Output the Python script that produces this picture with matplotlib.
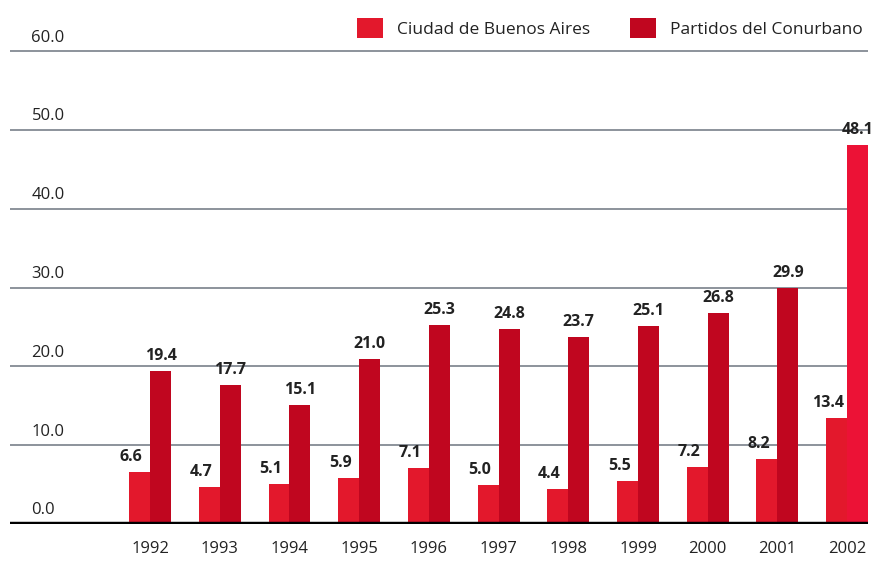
import matplotlib.pyplot as plt
import matplotlib.transforms as mtransforms
import numpy as np

plt.rcParams["font.family"] = ["Open Sans", "DejaVu Sans"]

years = ["1992", "1993", "1994", "1995", "1996", "1997", "1998", "1999", "2000", "2001", "2002"]
ciudad = [6.6, 4.7, 5.1, 5.9, 7.1, 5.0, 4.4, 5.5, 7.2, 8.2, 13.4]
partidos = [19.4, 17.7, 15.1, 21.0, 25.3, 24.8, 23.7, 25.1, 26.8, 29.9, 48.1]
yticks = [0, 10, 20, 30, 40, 50, 60]

C_CIUDAD = "#e3182c"
C_PARTIDOS = "#c0061f"
TXT = "#222222"

fig = plt.figure(figsize=(8.74, 5.62), dpi=100)
ax = fig.add_axes([10 / 874, 38 / 562, 858 / 874, 476 / 562])

x = np.arange(len(years))
w = 0.30
p_colors = [C_PARTIDOS] * (len(years) - 1) + ["#ec1236"]
ax.bar(x - w / 2, ciudad, w, color=C_CIUDAD, label="Ciudad de Buenos Aires", zorder=2)
ax.bar(x + w / 2, partidos, w, color=p_colors, label="Partidos del Conurbano", zorder=2)

ax.set_xlim(-2.01, 10.30)
ax.set_ylim(0, 60.4)

# grid lines
for v in yticks[1:]:
    ax.axhline(v, color="#8c939b", linewidth=1.4, zorder=1)
ax.axhline(0, color="black", linewidth=3.2, zorder=3)

# y labels above gridlines
trans = mtransforms.blended_transform_factory(ax.transAxes, ax.transData)
for v in yticks:
    ax.annotate(f"{v:.1f}", xy=(0.025, v), xycoords=trans, xytext=(0, 4),
                textcoords="offset points", ha="left", va="bottom",
                fontsize=12, color=TXT)

# value labels
for i in range(len(years)):
    ax.annotate(f"{ciudad[i]:.1f}", xy=(x[i] - w / 2, ciudad[i]), xytext=(-6, 5),
                textcoords="offset points", ha="center", va="bottom",
                fontsize=11.5, fontweight="bold", color=TXT)
    ax.annotate(f"{partidos[i]:.1f}", xy=(x[i] + w / 2, partidos[i]), xytext=(0, 5),
                textcoords="offset points", ha="center", va="bottom",
                fontsize=11.5, fontweight="bold", color=TXT)

ax.set_yticks([])
ax.set_xticks(x)
ax.set_xticklabels(years, fontsize=12, color=TXT)
ax.tick_params(axis="x", length=0, pad=12)
for s in ax.spines.values():
    s.set_visible(False)

fig.legend(loc="upper right", bbox_to_anchor=(1.005, 0.995), ncol=2, frameon=False,
           fontsize=12.5, handlelength=1.5, handleheight=1.4, columnspacing=2.3,
           handletextpad=0.8, labelcolor=TXT)

fig.savefig("out.png", dpi=100)
